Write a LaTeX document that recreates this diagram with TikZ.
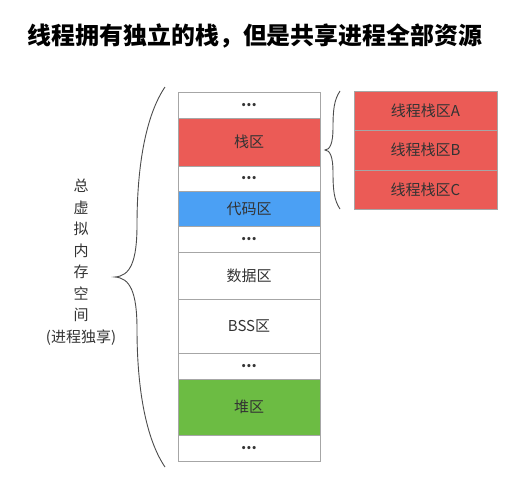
\documentclass[tikz,border=0pt]{standalone}
\usepackage{fontspec}
\setmainfont{Noto Sans CJK SC}
\usepackage{xcolor}
\usetikzlibrary{positioning}

\definecolor{stackred}{HTML}{EB5B56}
\definecolor{codeblue}{HTML}{4BA0F4}
\definecolor{heapgreen}{HTML}{6CBC43}
\definecolor{cellgray}{HTML}{A6A6A6}
\definecolor{textgray}{HTML}{333333}

\begin{document}
\begin{tikzpicture}[x=1pt,y=-1pt,
    cell/.style={draw=cellgray,line width=0.8pt,outer sep=0pt,inner sep=0pt,
      minimum width=142pt,text=textgray,font=\fontsize{15}{15}\selectfont},
    tcell/.style={cell,fill=stackred,minimum width=143pt},
    brace/.style={draw=black!70,line width=0.9pt}]
        \useasboundingbox (0,0) rectangle (513,477);

        %------------------
        % 标题
        %------------------
        \node (title) at (255,36) {\fontsize{23.9}{23.9}\selectfont\bfseries 线程拥有独立的栈，但是共享进程全部资源};

        %------------------
        % 进程虚拟内存
        %------------------
        \node[cell,minimum height=26pt] (dots1) at (249,105) {\textbf{...}};
        \node[cell,fill=stackred,minimum height=48pt,below=0pt of dots1] (stack) {栈区};
        \node[cell,minimum height=25pt,below=0pt of stack] (dots2) {\textbf{...}};
        \node[cell,fill=codeblue,minimum height=35pt,below=0pt of dots2] (code) {代码区};
        \node[cell,minimum height=26pt,below=0pt of code] (dots3) {\textbf{...}};
        \node[cell,minimum height=47pt,below=0pt of dots3] (data) {数据区};
        \node[cell,minimum height=54pt,below=0pt of data] (bss) {BSS区};
        \node[cell,minimum height=26pt,below=0pt of bss] (dots4) {\textbf{...}};
        \node[cell,fill=heapgreen,minimum height=56pt,below=0pt of dots4] (heap) {堆区};
        \node[cell,minimum height=26pt,below=0pt of heap] (dots5) {\textbf{...}};

        %------------------
        % 线程栈
        %------------------
        \node[tcell,minimum height=39pt] (stackA) at (425.5,110.5) {线程栈区A};
        \node[tcell,minimum height=40pt,below=0pt of stackA] (stackB) {线程栈区B};
        \node[tcell,minimum height=39pt,below=0pt of stackB] (stackC) {线程栈区C};

        %------------------
        % 括号
        %------------------
        % 左
        \draw[brace] (165,87) .. controls (146,115) and (137,165) .. (137,225)
          .. controls (137,262) and (130,276) .. (115,277)
          .. controls (130,278) and (137,292) .. (137,329)
          .. controls (137,389) and (146,439) .. (165,467);
        % 右
        \draw[brace] (340,91) .. controls (334,100) and (333,110) .. (333,128)
          .. controls (333,143) and (330,150) .. (325,150)
          .. controls (330,150) and (333,157) .. (333,172)
          .. controls (333,190) and (334,200) .. (340,209);

        % 标签
        \node[align=center,text=textgray,font=\fontsize{15}{21.5}\selectfont] (vmem) at (81,262)
          {总\\虚\\拟\\内\\存\\空\\间\\(进程独享)};
\end{tikzpicture}
\end{document}
